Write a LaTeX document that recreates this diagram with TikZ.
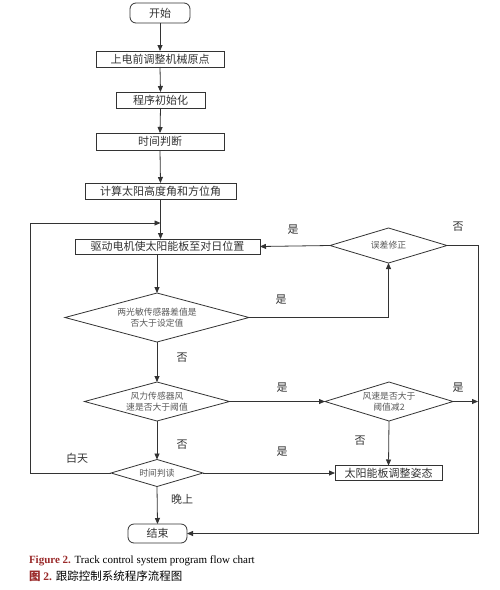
\documentclass[tikz,border=0pt]{standalone}
\usepackage{fontspec}
\setmainfont{Liberation Serif}
\newfontfamily\cjk{Noto Sans CJK SC}
\usetikzlibrary{shapes.geometric,arrows.meta}
\definecolor{capred}{HTML}{9A2A2A}
\definecolor{ln}{HTML}{333333}
\begin{document}
\begin{tikzpicture}[x=1pt,y=-1pt,
  every node/.style={inner sep=0pt,outer sep=0pt},
  boxn/.style={draw=ln,line width=0.8pt,rectangle,font=\cjk\fontsize{11}{13}\selectfont,text=black!80},
  termn/.style={boxn,rounded corners=6pt},
  dia/.style={draw=ln,line width=0.8pt,diamond,font=\cjk\fontsize{8.8}{11}\selectfont,text=black!65,align=center},
  lbl/.style={font=\cjk\fontsize{11}{13}\selectfont,text=black!80},
  arr/.style={draw=ln,line width=0.8pt,-{Triangle[length=6pt,width=5pt]}},
  ln/.style={draw=ln,line width=0.8pt}]
\useasboundingbox (0,0) rectangle (500,590);
\fill[white] (0,0) rectangle (500,590);
% nodes
\node[termn,minimum width=60pt,minimum height=20pt] (start) at (160,13) {开始};
\node[boxn,minimum width=128pt,minimum height=16pt] (n1) at (160,59) {上电前调整机械原点};
\node[boxn,minimum width=89pt,minimum height=16pt] (n2) at (160.5,100) {程序初始化};
\node[boxn,minimum width=128pt,minimum height=17pt] (n3) at (160,141.5) {时间判断};
\node[boxn,minimum width=151pt,minimum height=16pt] (n4) at (160.5,191) {计算太阳高度角和方位角};
\node[boxn,minimum width=185pt,minimum height=15pt] (n5) at (167.5,246.5) {驱动电机使太阳能板至对日位置};
\node[dia,minimum width=117pt,minimum height=35pt,aspect=3.3] (d0) at (388.5,245.5) {误差修正};
\node[dia,minimum width=184pt,minimum height=49pt,aspect=3.75] (d1) at (157,317.5) {两光敏传感器差值是\\否大于设定值};
\node[dia,minimum width=145pt,minimum height=39pt,aspect=3.7] (d2) at (157,401.5) {风力传感器风\\速是否大于阈值};
\node[dia,minimum width=128pt,minimum height=39pt,aspect=3.3] (d3) at (389,401.5) {风速是否大于\\阈值减2};
\node[boxn,minimum width=107pt,minimum height=15pt] (n6) at (388.5,473) {太阳能板调整姿态};
\node[dia,minimum width=92pt,minimum height=27pt,aspect=3.4] (d4) at (157,473) {时间判读};
\node[termn,minimum width=59pt,minimum height=19pt] (end) at (157.5,533.5) {结束};
% coordinates
\coordinate (loopL) at (30,223);
\coordinate (rightT) at (478,245.5);
\coordinate (rightB) at (478,533.5);
% connectors
\draw[arr] (start.south) -- (n1.north);
\draw[arr] (n1.south) -- (n2.north);
\draw[arr] (n2.south) -- (n3.north);
\draw[arr] (n3.south) -- (n4.north);
\draw[arr] (n4.south) -- (n4.south |- n5.north);
\draw[arr] (d1.north |- n5.south) -- (d1.north);
\draw[arr] (d1.east) -- (d0.south |- d1.east) -- (d0.south);
\draw[arr] (d0.west) -- (n5.east);
\draw[arr] (d0.east) -- (rightT) -- (rightB) -- (end.east);
\draw[arr] (d1.south) -- (d2.north);
\draw[arr] (d2.east) -- (d3.west);
\draw[arr] (d3.east) -- (rightT |- d3.east);
\draw[arr] (d3.south) -- (n6.north);
\draw[arr] (d2.south) -- (d4.north);
\draw[arr] (d4.east) -- (n6.west);
\draw[arr] (d4.west) -- (loopL |- d4.west) -- (loopL) -- (n4.south |- loopL);
\draw[arr] (d4.south) -- (end.north);
% labels
\node[lbl] (l1) at (293,230) {是};
\node[lbl] (l2) at (458,227) {否};
\node[lbl] (l3) at (281,300) {是};
\node[lbl] (l4) at (182,358) {否};
\node[lbl] (l5) at (282,388) {是};
\node[lbl] (l6) at (458,388) {是};
\node[lbl] (l7) at (360,441) {否};
\node[lbl] (l8) at (182,445) {否};
\node[lbl] (l9) at (282,452) {是};
\node[lbl] (l10) at (77,458) {白天};
\node[lbl] (l11) at (182,499) {晚上};
% caption
\node[anchor=base west,font=\fontsize{11}{13}\selectfont] (cap1) at (29,563) {\textcolor{capred}{\textbf{Figure 2.}} Track control system program flow chart};
\node[anchor=base west,font=\fontsize{11.5}{13}\selectfont] (cap2) at (29,580) {\textcolor{capred}{\textbf{\cjk 图}\textbf{ 2.}} {\cjk 跟踪控制系统程序流程图}};
\end{tikzpicture}
\end{document}
